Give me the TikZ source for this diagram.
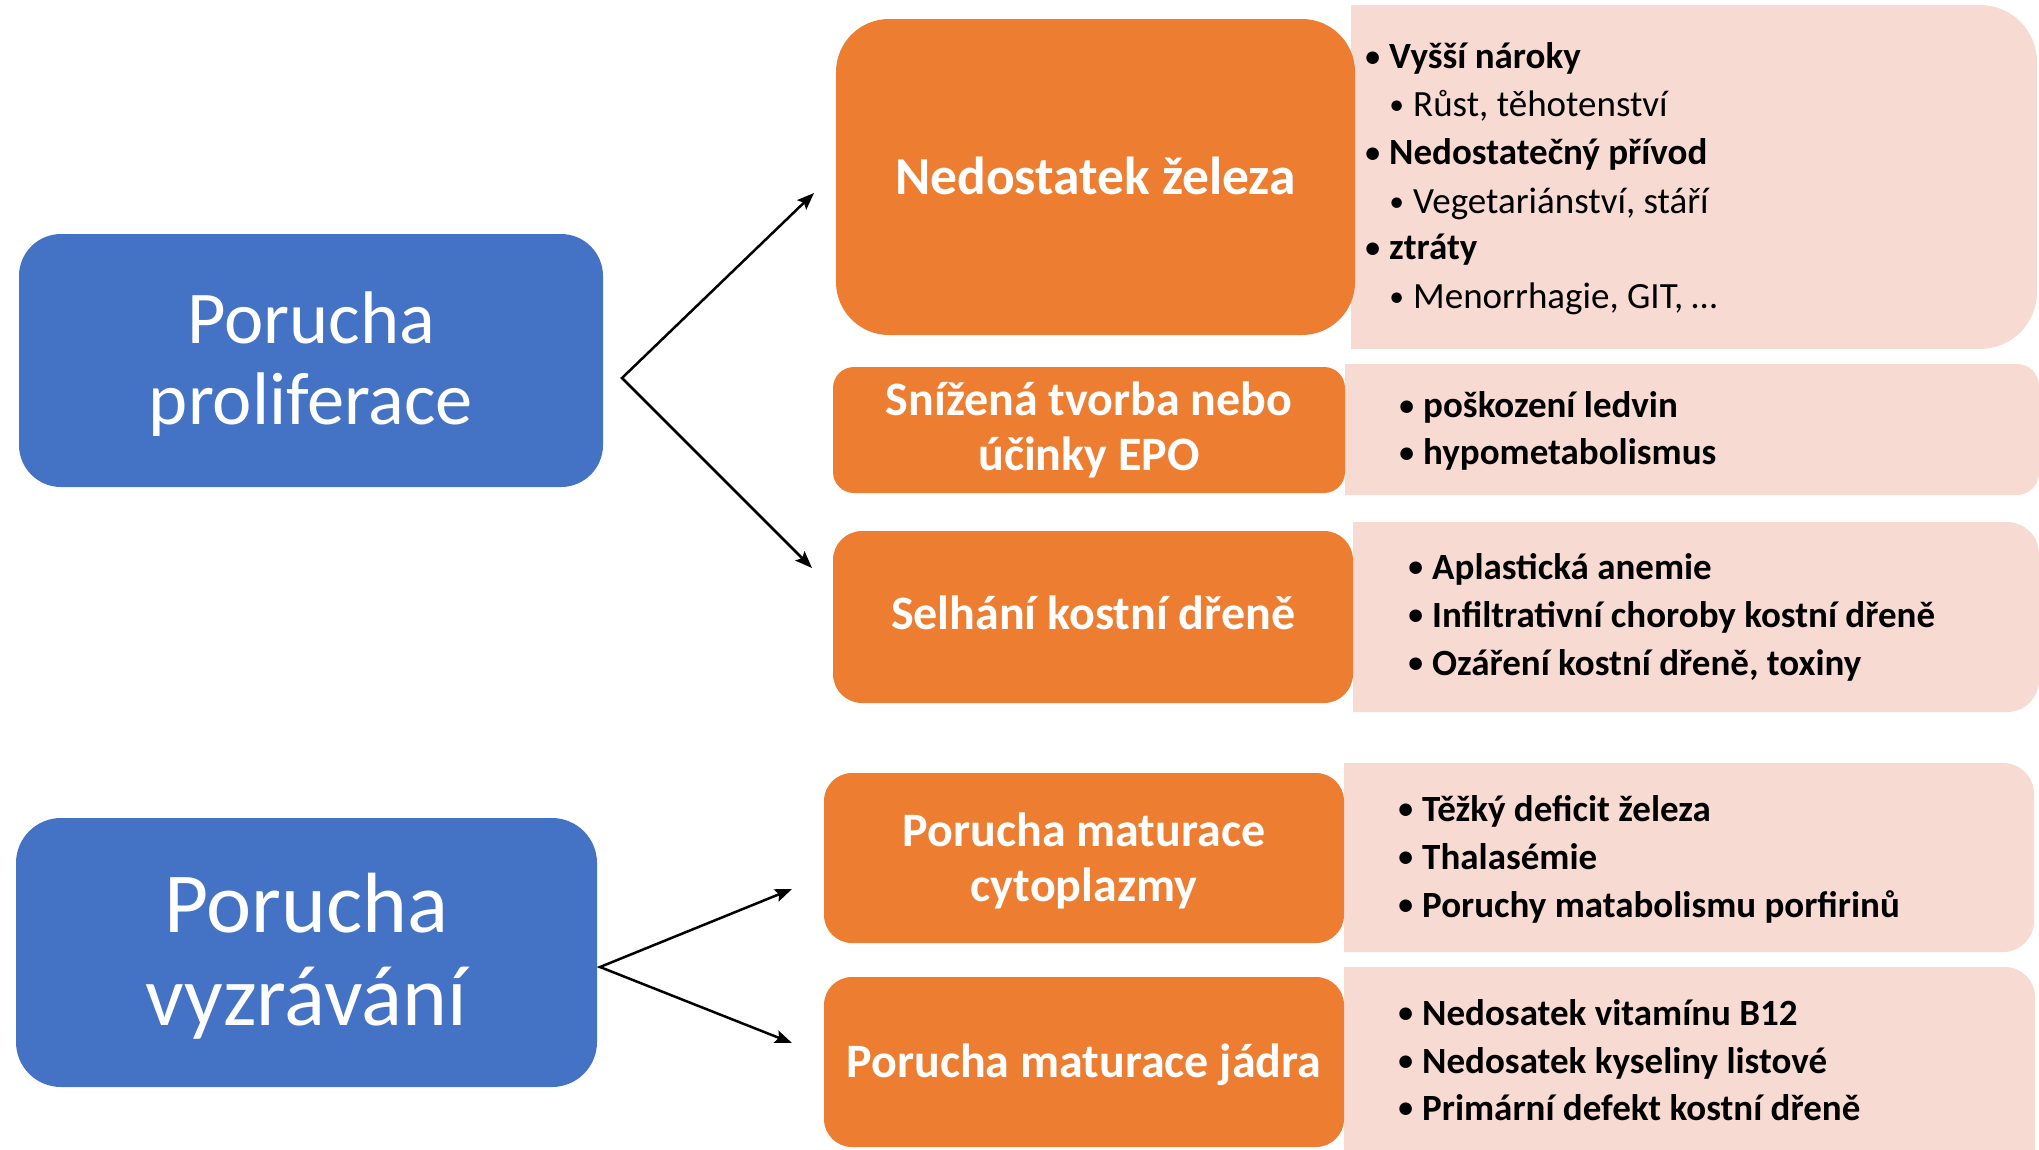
\documentclass[tikz,border=0pt]{standalone}
\usepackage{graphicx}
\usepackage{fontspec}
\setmainfont{Carlito}
\usetikzlibrary{arrows.meta}
\definecolor{bluec}{HTML}{4472C4}
\definecolor{orangec}{HTML}{ED7D31}
\definecolor{pinkc}{RGB}{247,218,210}
\newcommand{\bul}{\llap{\raisebox{2.5pt}{\scalebox{0.8}{•}}\hspace{9pt}}}
\begin{document}
\begin{tikzpicture}[x=1pt,y=-1pt,
  box/.style={rounded corners=#1, inner sep=0pt, align=center, text=white},
  bluebox/.style={box=#1, fill=bluec},
  orangebox/.style={box=#1, fill=orangec, font=\bfseries\fontsize{48}{55}\selectfont},
  item/.style={anchor=base west, inner sep=0pt, font=\bfseries\fontsize{37}{37}\selectfont},
  subitem/.style={anchor=base west, inner sep=0pt, font=\fontsize{37}{37}\selectfont},
  arrowline/.style={line width=2.5pt, line join=miter, {Stealth[length=17pt,width=13pt,inset=3pt]}-{Stealth[length=17pt,width=13pt,inset=3pt]}}
]
\useasboundingbox (0,0) rectangle (2039,1149);

% pink panels (square left edge, rounded right corners)
\begin{scope}\clip (1351,0) rectangle (2039,1149);
  \fill[pinkc, rounded corners=57] (1280,5) rectangle (2037,349);\end{scope}
\begin{scope}\clip (1345,0) rectangle (2039,1149);
  \fill[pinkc, rounded corners=22] (1300,364) rectangle (2039,495);\end{scope}
\begin{scope}\clip (1353,0) rectangle (2039,1149);
  \fill[pinkc, rounded corners=32] (1300,522) rectangle (2039,712);\end{scope}
\begin{scope}\clip (1344,0) rectangle (2039,1149);
  \fill[pinkc, rounded corners=31] (1300,763) rectangle (2034,952);\end{scope}
\begin{scope}\clip (1344,0) rectangle (2039,1149);
  \fill[pinkc, rounded corners=30] (1300,967) rectangle (2035,1190);\end{scope}

% blue boxes
\node[bluebox=42, minimum width=584, minimum height=253, font=\fontsize{74.5}{81}\selectfont]
  (bp) at (311,360.5) {\rule{0pt}{58pt}Porucha\\proliferace};
\node[bluebox=45, minimum width=581, minimum height=269, font=\fontsize{85.5}{93}\selectfont]
  (bv) at (306.5,952.5) {\rule{0pt}{66pt}Porucha\\vyzrávání};

% orange boxes
\node[orangebox=53, minimum width=519, minimum height=316, font=\bfseries\fontsize{53.5}{60}\selectfont,
  text height=42pt, text depth=8pt]
  (o1) at (1095.5,177) {Nedostatek železa};
\node[orangebox=21, minimum width=512, minimum height=126] (o2) at (1089,430) {Snížená tvorba nebo\\účinky EPO};
\node[orangebox=29, minimum width=520, minimum height=172, text height=32pt, text depth=8pt]
  (o3) at (1093,617) {Selhání kostní dřeně};
\node[orangebox=28, minimum width=520, minimum height=170] (o4) at (1084,858) {\rule{0pt}{40pt}Porucha maturace\\cytoplazmy};
\node[orangebox=28, minimum width=520, minimum height=170, text height=38pt, text depth=8pt]
  (o5) at (1084,1062) {Porucha maturace jádra};

% list 1
\node[item] (a1) at (1389,68.5) {\bul Vyšší nároky};
\node[subitem] (a2) at (1413,116.5) {\bul Růst, těhotenství};
\node[item] (a3) at (1389,164.5) {\bul Nedostatečný přívod};
\node[subitem] (a4) at (1413,213.5) {\bul Vegetariánství, stáří};
\node[item] (a5) at (1389,259.5) {\bul ztráty};
\node[subitem] (a6) at (1413,308.5) {\bul Menorrhagie, GIT, …};
% list 2
\node[item] (b1) at (1423,417.5) {\bul poškození ledvin};
\node[item] (b2) at (1423,464.5) {\bul hypometabolismus};
% list 3
\node[item] (c1) at (1432,579) {\bul Aplastická anemie};
\node[item] (c2) at (1432,627) {\bul Infiltrativní choroby kostní dřeně};
\node[item] (c3) at (1432,675) {\bul Ozáření kostní dřeně, toxiny};
% list 4
\node[item] (d1) at (1422,821) {\bul Těžký deficit železa};
\node[item] (d2) at (1422,869) {\bul Thalasémie};
\node[item] (d3) at (1422,917) {\bul Poruchy matabolismu porfirinů};
% list 5
\node[item] (e1) at (1422,1025) {\bul Nedosatek vitamínu B12};
\node[item] (e2) at (1422,1073) {\bul Nedosatek kyseliny listové};
\node[item] (e3) at (1422,1120) {\bul Primární defekt kostní dřeně};

% connectors
\coordinate (k1) at (622,378);
\coordinate (t1) at (814,193);
\coordinate (t2) at (812,568);
\coordinate (k2) at (600,967);
\coordinate (t3) at (792,889);
\coordinate (t4) at (792,1043);
\draw[arrowline] (t1) -- (k1) -- (t2);
\draw[arrowline] (t3) -- (k2) -- (t4);
\end{tikzpicture}
\end{document}
